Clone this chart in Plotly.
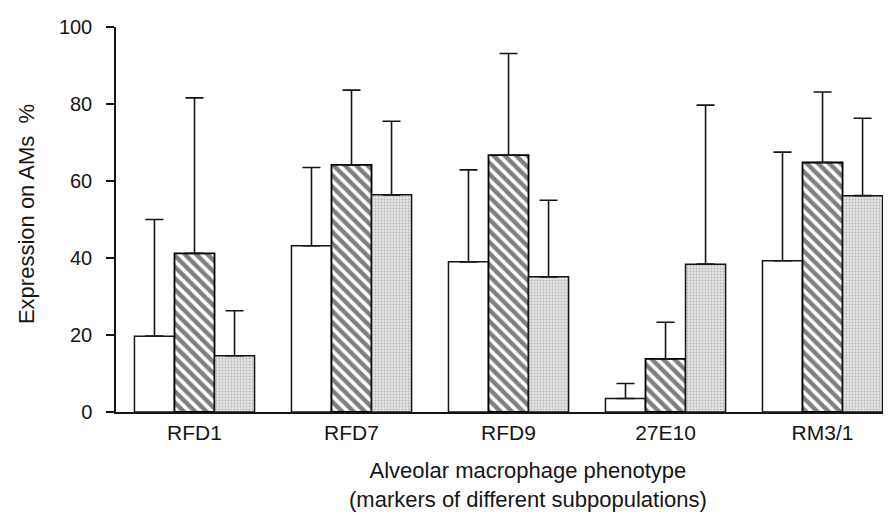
import plotly.graph_objects as go

categories = ["RFD1", "RFD7", "RFD9", "27E10", "RM3/1"]
open_vals = [19.7, 43.2, 39.0, 3.5, 39.3]
open_err = [30.3, 20.3, 23.9, 3.9, 28.2]
hatched_vals = [41.2, 64.2, 66.7, 13.8, 64.8]
hatched_err = [40.4, 19.4, 26.4, 9.5, 18.3]
dotted_vals = [14.6, 56.4, 35.1, 38.4, 56.2]
dotted_err = [11.7, 19.1, 19.9, 41.3, 20.1]
y_ticks = [0, 20, 40, 60, 80, 100]

FONT = "Liberation Sans, Arial, Helvetica, sans-serif"
INK = "#151515"

def err(vals):
    return dict(type="data", symmetric=False, array=vals,
                arrayminus=[0] * len(vals), color=INK, thickness=1.6, width=9)

fig = go.Figure()
fig.add_trace(go.Bar(
    x=categories, y=open_vals, error_y=err(open_err),
    marker=dict(color="white", line=dict(color=INK, width=1.5)),
))
fig.add_trace(go.Bar(
    x=categories, y=hatched_vals, error_y=err(hatched_err),
    marker=dict(color="white", line=dict(color="#000", width=1.8),
                pattern=dict(shape="\\", fgcolor="#000", bgcolor="white",
                             size=8, solidity=0.55)),
))
fig.add_trace(go.Bar(
    x=categories, y=dotted_vals, error_y=err(dotted_err),
    marker=dict(color="#e4e4e4", line=dict(color=INK, width=1.5),
                pattern=dict(shape=".", fgcolor="#8a8a8a", bgcolor="#e4e4e4",
                             size=3, solidity=0.3)),
))

fig.update_layout(
    width=891, height=519,
    margin=dict(l=108, r=0, t=19, b=115),
    paper_bgcolor="white", plot_bgcolor="white",
    barmode="group", bargap=0.235, bargroupgap=0,
    showlegend=False,
    font=dict(family=FONT, color=INK),
    xaxis=dict(
        range=[-0.5, 4.487], showline=True, linecolor=INK, linewidth=1.5,
        ticks="", showgrid=False, zeroline=False,
        tickfont=dict(size=21, family=FONT, color=INK),
        ticklabelstandoff=1,
    ),
    yaxis=dict(
        range=[0, 100], tickvals=y_ticks, showline=True, linecolor=INK,
        linewidth=1.5, ticks="outside", ticklen=8, tickwidth=1.5, tickcolor=INK,
        showgrid=False, zeroline=False,
        tickfont=dict(size=20, family=FONT, color=INK),
        ticklabelstandoff=10,
    ),
    annotations=[
        dict(text="Expression on AMs  %", xref="paper", yref="paper",
             x=-0.115, y=0.514, xanchor="center", yanchor="middle",
             textangle=-90, showarrow=False,
             font=dict(size=22, family=FONT, color=INK)),
        dict(text="Alveolar macrophage phenotype<br>(markers of different subpopulations)",
             xref="paper", yref="paper", x=0.526, y=-0.19,
             xanchor="center", yanchor="middle", showarrow=False,
             font=dict(size=22, family=FONT, color=INK)),
    ],
)

fig.write_html("out.html")
